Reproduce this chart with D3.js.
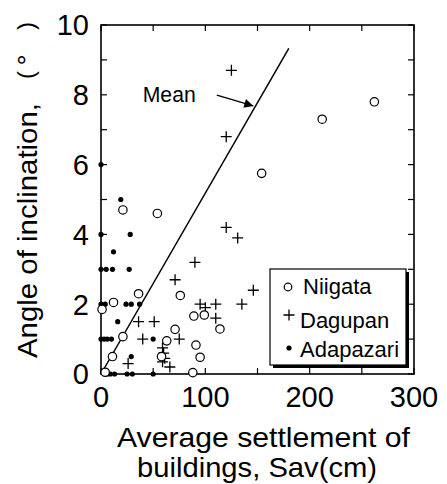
<!DOCTYPE html>
<html>
<head>
<meta charset="utf-8">
<script src="https://cdn.jsdelivr.net/npm/d3@7"></script>
<style>
  body { margin: 0; background: #fff; }
  text { font-family: Arial, "Liberation Sans", sans-serif; fill: #000; }
</style>
</head>
<body>
<div id="chart"></div>
<script>
// data: [settlement cm, angle deg]
const niigata = [[21,4.7],[54,4.6],[154,5.75],[212,7.3],[262,7.8],[36,2.3],[76,2.25],[12,2.05],
  [1,1.85],[21,1.07],[71,1.28],[63,0.95],[11,0.5],[4,0.05],[89,1.66],[99,1.69],[114,1.29],
  [91,0.83],[95,0.48],[88,0.04],[58,0.5]];
const dagupan = [[125,8.7],[120,6.8],[120,4.2],[131,3.9],[90,3.2],[71,2.7],[146,2.4],[135,2.0],
  [95,2.0],[100,1.9],[110,2.0],[110,1.6],[36,1.5],[51,1.5],[40,1.0],[75,1.0],[59,0.75],
  [60,0.6],[61,0.45],[59,0.35],[66,0.2],[26,0.3]];
const adapazari = [[0,6],[0,4],[19,5],[28,4],[12,3.5],[0,3],[5,3],[11,3],[27,3],
  [0,2],[4,2],[24,2],[29,2],[37,2],[16,1.5],[0,1],[3,1],[6,1],[10,1],[50,1],
  [29,0.5],[6,0],[9,0],[13,0],[25,0],[30,0],[50,0]];
const meanLine = [[0,0],[180,9.33]];
const xTicks = [0,100,200,300];
const yTicks = [0,2,4,6,8,10];
const legendNames = ["Niigata","Dagupan","Adapazari"];

const width = 447, height = 484;
const pL = 101, pR = 414, pT = 25, pB = 374;

const svg = d3.select("#chart").append("svg")
  .attr("width", width).attr("height", height);

const x = d3.scaleLinear().domain([0,300]).range([pL,pR]);
const y = d3.scaleLinear().domain([0,10]).range([pB,pT]);

// ticks inward on all four sides
const tickLen = 6;
const g = svg.append("g").attr("stroke","#000").attr("stroke-width",1.2);
d3.range(0,301,50).forEach(function(v){
  g.append("line").attr("x1",x(v)).attr("x2",x(v)).attr("y1",pB).attr("y2",pB-tickLen);
  g.append("line").attr("x1",x(v)).attr("x2",x(v)).attr("y1",pT).attr("y2",pT+tickLen);
});
d3.range(0,11,1).forEach(function(v){
  g.append("line").attr("x1",pL).attr("x2",pL+tickLen).attr("y1",y(v)).attr("y2",y(v));
  g.append("line").attr("x1",pR).attr("x2",pR-tickLen).attr("y1",y(v)).attr("y2",y(v));
});
svg.append("rect").attr("x",pL).attr("y",pT)
  .attr("width",pR-pL).attr("height",pB-pT)
  .attr("fill","none").attr("stroke","#000").attr("stroke-width",1.6);

// tick labels
svg.append("g").selectAll("text").data(xTicks).enter().append("text")
  .attr("x",d => x(d)).attr("y",407).attr("text-anchor","middle")
  .attr("font-size",29).text(d => d);
svg.append("g").selectAll("text").data(yTicks).enter().append("text")
  .attr("x",89).attr("y",d => y(d)).attr("dy","0.36em").attr("text-anchor","end")
  .attr("font-size",29).text(d => d);

// axis titles
svg.append("text").attr("x",117).attr("y",447)
  .attr("font-size",28).attr("textLength",293).attr("lengthAdjust","spacingAndGlyphs")
  .text("Average settlement of");
svg.append("text").attr("x",137).attr("y",477)
  .attr("font-size",28).attr("textLength",240).attr("lengthAdjust","spacingAndGlyphs")
  .text("buildings, Sav(cm)");
const yt = svg.append("g").attr("transform","translate(37,358) rotate(-90)");
yt.append("text").attr("x",0).attr("y",0).attr("font-size",28)
  .attr("textLength",255).attr("lengthAdjust","spacingAndGlyphs")
  .text("Angle of inclination,");
yt.append("text").attr("x",283).attr("y",-3).attr("text-anchor","middle").attr("font-size",24).text("(");
yt.append("text").attr("x",298).attr("y",0).attr("text-anchor","middle").attr("font-size",28).text("\u00b0");
yt.append("text").attr("x",332).attr("y",-3).attr("text-anchor","middle").attr("font-size",24).text(")");

// mean line
svg.append("path").datum(meanLine)
  .attr("d", d3.line().x(d => x(d[0])).y(d => y(d[1])))
  .attr("fill","none").attr("stroke","#000").attr("stroke-width",1.5);

// arrow + label
svg.append("defs").append("marker").attr("id","ah")
  .attr("viewBox","0 0 10 10").attr("refX",10).attr("refY",5)
  .attr("markerWidth",16).attr("markerHeight",9).attr("markerUnits","userSpaceOnUse")
  .attr("orient","auto")
  .append("path").attr("d","M0,0L10,5L0,10Z").attr("fill","#000");
svg.append("line").attr("x1",x(111)).attr("y1",y(7.99)).attr("x2",x(146)).attr("y2",y(7.68))
  .attr("stroke","#000").attr("stroke-width",1.3).attr("marker-end","url(#ah)");
svg.append("text").attr("x",x(40)).attr("y",y(7.8)).attr("font-size",22)
  .attr("textLength",53).attr("lengthAdjust","spacingAndGlyphs").text("Mean");

// markers
function cross(sel, cx, cy, h){
  sel.append("path").attr("d",`M${cx-h},${cy}H${cx+h}M${cx},${cy-h}V${cy+h}`)
    .attr("stroke","#000").attr("stroke-width",1.3).attr("fill","none");
}
const pts = svg.append("g");
adapazari.forEach(d => pts.append("circle").attr("cx",x(d[0])).attr("cy",y(d[1])).attr("r",2.6).attr("fill","#000"));
dagupan.forEach(d => cross(pts, x(d[0]), y(d[1]), 5.5));
niigata.forEach(d => pts.append("circle").attr("cx",x(d[0])).attr("cy",y(d[1])).attr("r",4.2)
  .attr("fill","#fff").attr("stroke","#000").attr("stroke-width",1.2));

// legend
const lg = svg.append("g");
lg.append("rect").attr("x",273).attr("y",272).attr("width",136).attr("height",96).attr("fill","#000");
lg.append("rect").attr("x",270).attr("y",269).attr("width",136).attr("height",96)
  .attr("fill","#fff").attr("stroke","#000").attr("stroke-width",1.2);
lg.append("circle").attr("cx",288).attr("cy",287).attr("r",3.8)
  .attr("fill","#fff").attr("stroke","#000").attr("stroke-width",1.2);
cross(lg, 289, 315, 5.5);
lg.append("circle").attr("cx",289).attr("cy",348).attr("r",2.6).attr("fill","#000");
lg.selectAll("text.lab").data(legendNames).enter().append("text")
  .attr("x",(d,i) => i === 0 ? 303 : 300)
  .attr("y",(d,i) => [294,328,357][i])
  .attr("font-size",22).text(d => d);
</script>
</body>
</html>
